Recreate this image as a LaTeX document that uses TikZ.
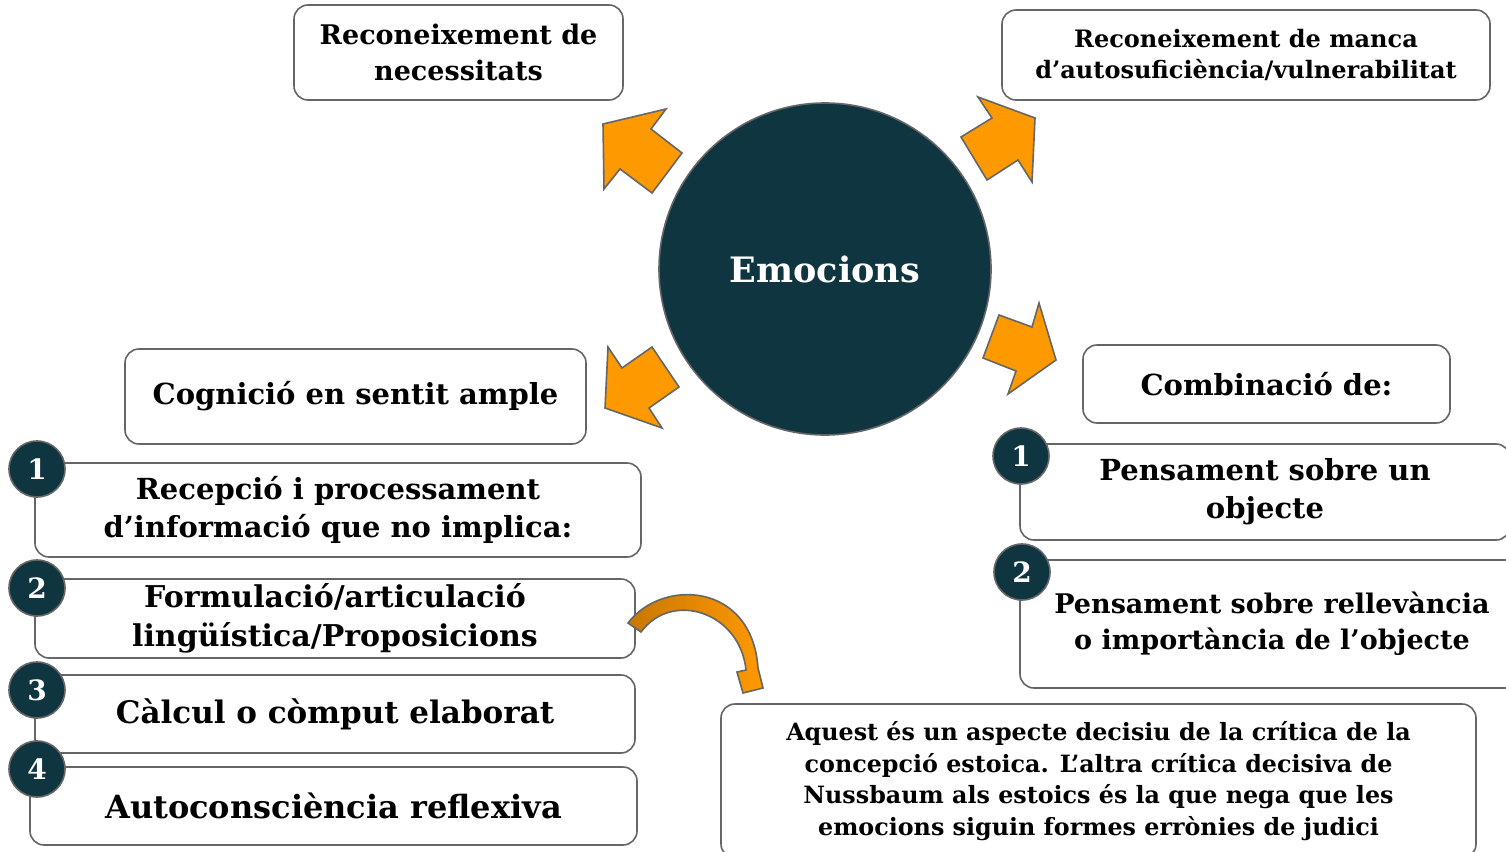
\documentclass[tikz,border=0pt]{standalone}
\usepackage{fontspec}
\setmainfont{DejaVu Serif}
\definecolor{emoteal}{HTML}{0F3540}
\definecolor{boxgray}{HTML}{666666}
\definecolor{emoorange}{HTML}{FF9900}
\definecolor{emodark}{HTML}{C87800}
\tikzset{
  box/.style={draw=boxgray, line width=1.6pt, rounded corners=14pt, fill=white,
    align=center, inner sep=0pt, font=\bfseries},
  numdot/.style={circle, draw=boxgray, line width=1.6pt, fill=emoteal, text=white,
    minimum size=56pt, inner sep=0pt, font=\bfseries\fontsize{28}{28}\selectfont},
  blockarrow/.style={draw=boxgray, line width=1.6pt, fill=emoorange, line join=miter}
}
\newcommand{\fs}[1]{\fontsize{#1}{1.32\dimexpr#1pt\relax}\selectfont}
\begin{document}
\begin{tikzpicture}[x=1pt,y=-1pt]
    \useasboundingbox (0,0) rectangle (1506,851);

    % centre
    \node[circle, draw=boxgray, line width=1.6pt, fill=emoteal, text=white,
          minimum size=332pt, font=\bfseries\fs{35}] (emo) at (825,269) {Emocions};

    % top boxes
    \node[box, minimum width=329pt, minimum height=95pt, font=\bfseries\fs{27}] (need) at (458.5,52.5)
        {Reconeixement de\\necessitats};
    \node[box, minimum width=488pt, minimum height=90pt, font=\bfseries\fs{24}] (vuln) at (1246,55)
        {Reconeixement de manca\\d’autosuficiència/vulnerabilitat};

    % middle boxes
    \node[box, minimum width=461pt, minimum height=95pt, font=\bfseries\fs{29}] (cog) at (355.5,396.5)
        {Cognició en sentit ample};
    \node[box, minimum width=367pt, minimum height=78pt, font=\bfseries\fs{29}] (comb) at (1266.5,384)
        {Combinació de:};

    % left list
    \node[box, minimum width=606pt, minimum height=94pt, font=\bfseries\fs{29}] (l1) at (338,510)
        {Recepció i processament\\d’informació que no implica:};
    \node[box, minimum width=600pt, minimum height=79pt, font=\bfseries\fs{30}] (l2) at (335,618.5)
        {Formulació/articulació\\lingüística/Proposicions};
    \node[box, minimum width=600pt, minimum height=78pt, font=\bfseries\fs{31}] (l3) at (335,714)
        {Càlcul o còmput elaborat};
    \node[box, minimum width=607pt, minimum height=78pt, font=\bfseries\fs{32}] (l4) at (333.5,806)
        {Autoconsciència reflexiva};
    \node[numdot] (n1) at (37,469) {1};
    \node[numdot] (n2) at (37,588) {2};
    \node[numdot] (n3) at (37,690) {3};
    \node[numdot] (n4) at (37,769) {4};

    % right list
    \node[box, minimum width=490pt, minimum height=96pt, font=\bfseries\fs{29}] (r1) at (1265,492)
        {Pensament sobre un\\objecte};
    \node[box, minimum width=504pt, minimum height=128pt, font=\bfseries\fs{27}] (r2) at (1272,624)
        {Pensament sobre rellevància\\o importància de l’objecte};
    \node[numdot] (m1) at (1021,456) {1};
    \node[numdot] (m2) at (1022,572) {2};

    % note
    \node[box, minimum width=755pt, minimum height=154pt, font=\bfseries\fs{23.8}] (note) at (1098.5,781)
        {Aquest és un aspecte decisiu de la crítica de la\\concepció estoica. L’altra crítica decisiva de\\Nussbaum als estoics és la que nega que les\\emocions siguin formes errònies de judici};

    % block arrows
    \draw[blockarrow] (603,124) -- (666,109) -- (651,129) -- (682,153) -- (652,193) -- (620,169) -- (604,189) -- cycle;
    \draw[blockarrow] (1035,118) -- (978,97) -- (992,118) -- (961,137) -- (987,180) -- (1018,160) -- (1032,182) -- cycle;
    \draw[blockarrow] (605,408) -- (608,347) -- (622,368) -- (652,347) -- (679,387) -- (649,408) -- (662,428) -- cycle;
    \draw[blockarrow] (1056,360) -- (1039,303) -- (1032,327) -- (999,315) -- (983,358) -- (1016,371) -- (1008,394) -- cycle;

    % curved arrow
    \draw[draw=boxgray, line width=1.6pt, left color=emodark, right color=emoorange, line join=miter]
        (628,623) .. controls (662,578) and (752,582) .. (758,668) -- (763,688) -- (743,693) -- (737,672)
        -- (746,670) .. controls (740,612) and (672,590) .. (641,632) -- cycle;
\end{tikzpicture}
\end{document}
